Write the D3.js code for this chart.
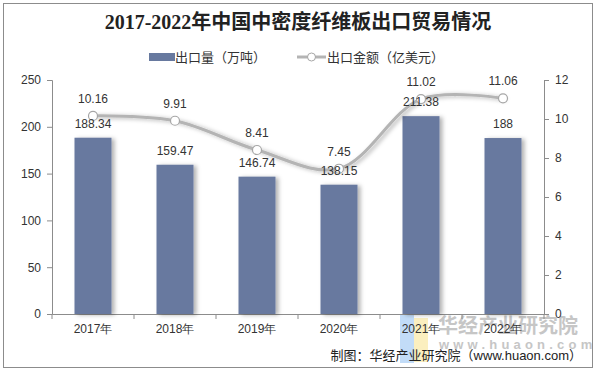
<!DOCTYPE html>
<html>
<head>
<meta charset="utf-8">
<script src="https://cdn.jsdelivr.net/npm/d3@7"></script>
<style>
  body { margin: 0; background: #fff; }
  svg { display: block; font-family: "Liberation Sans", Arial, "Noto Sans CJK SC", sans-serif; }
</style>
</head>
<body>
<svg id="chart"></svg>
<script>
const years = ['2017年', '2018年', '2019年', '2020年', '2021年', '2022年'];
const volume = [188.34, 159.47, 146.74, 138.15, 211.38, 188];
const amount = [10.16, 9.91, 8.41, 7.45, 11.02, 11.06];
const leftTicks = [0, 50, 100, 150, 200, 250];
const rightTicks = [0, 2, 4, 6, 8, 10, 12];

let width = 596;
let height = 372;
let plotLeft = 52, plotRight = 544, plotTop = 80, plotBottom = 314;

let svg = d3.select('#chart')
            .attr('width', width)
            .attr('height', height);

let defs = svg.append('defs');
let shadow = defs.append('filter').attr('id', 'shadow')
  .attr('x', '-20%').attr('y', '-20%').attr('width', '160%').attr('height', '140%');
shadow.append('feDropShadow')
  .attr('dx', 3).attr('dy', 1).attr('stdDeviation', 2)
  .attr('flood-color', '#000').attr('flood-opacity', 0.3);

// outer frame
svg.append('rect')
   .attr('x', 3.5).attr('y', 3.5)
   .attr('width', width - 7).attr('height', height - 8)
   .attr('fill', '#fff').attr('stroke', '#8c8c8c');

svg.append('text')
   .attr('x', width / 2).attr('y', 29)
   .attr('text-anchor', 'middle')
   .style('font-family', '"Liberation Serif", "Noto Sans CJK SC", serif')
   .style('font-weight', 'bold')
   .style('font-size', '20px')
   .attr('fill', '#222')
   .text('2017-2022年中国中密度纤维板出口贸易情况');

let x = d3.scaleBand().domain(years).range([plotLeft, plotRight]);
let yL = d3.scaleLinear().domain([0, 250]).range([plotBottom, plotTop]);
let yR = d3.scaleLinear().domain([0, 12]).range([plotBottom, plotTop]);

// watermark (drawn under the axis labels)
let wm = svg.append('g');
wm.append('rect').attr('x', 400).attr('y', 315).attr('width', 14).attr('height', 48).attr('fill', '#c2dcf8');
wm.append('rect').attr('x', 414).attr('y', 318).attr('width', 14).attr('height', 44).attr('fill', '#fbefbf');
wm.append('text').attr('x', 438).attr('y', 333)
  .style('font-size', '20px').style('font-weight', 'bold').attr('fill', '#c6c6c6')
  .text('华经产业研究院');
wm.append('text').attr('x', 439).attr('y', 349)
  .style('font-size', '13px').style('font-weight', 'bold').style('letter-spacing', '4.2px').attr('fill', '#c6c6c6')
  .text('www.huaon.com');

// axes
let xAxis = d3.axisBottom(x).tickSize(0).tickPadding(10);
let gx = svg.append('g').attr('transform', `translate(0,${plotBottom})`).call(xAxis);
gx.selectAll('text').style('font-size', '12px').attr('fill', '#333');
gx.select('.domain').attr('stroke', '#8c8c8c');
gx.selectAll('.sep')
  .data(d3.range(years.length + 1))
  .enter().append('line')
  .attr('x1', i => plotLeft + i * x.step()).attr('x2', i => plotLeft + i * x.step())
  .attr('y1', 0).attr('y2', 5)
  .attr('stroke', '#8c8c8c');

let gl = svg.append('g').attr('transform', `translate(${plotLeft},0)`)
  .call(d3.axisLeft(yL).tickValues(leftTicks).tickSize(5).tickPadding(6));
gl.selectAll('text').style('font-size', '12px').attr('fill', '#333');
gl.selectAll('line, .domain').attr('stroke', '#8c8c8c');

let gr = svg.append('g').attr('transform', `translate(${plotRight},0)`)
  .call(d3.axisRight(yR).tickValues(rightTicks).tickSize(5).tickPadding(6));
gr.selectAll('text').style('font-size', '12px').attr('fill', '#333');
gr.selectAll('line, .domain').attr('stroke', '#8c8c8c');

// bars
let barW = 37;
let cx = (d, i) => x(years[i]) + x.bandwidth() / 2;
svg.selectAll('rect.bar')
   .data(volume)
   .enter().append('rect')
   .attr('class', 'bar')
   .attr('x', (d, i) => cx(d, i) - barW / 2)
   .attr('y', d => yL(d))
   .attr('width', barW)
   .attr('height', d => plotBottom - yL(d))
   .attr('fill', '#67799f')
   .attr('filter', 'url(#shadow)');

// line
let line = d3.line().x(cx).y(d => yR(d)).curve(d3.curveCatmullRom);
svg.append('path')
   .datum(amount)
   .attr('d', line)
   .attr('fill', 'none')
   .attr('stroke', '#b4b4b4')
   .attr('stroke-width', 3)
   .attr('filter', 'url(#shadow)');

svg.selectAll('circle.pt')
   .data(amount)
   .enter().append('circle')
   .attr('class', 'pt')
   .attr('cx', cx).attr('cy', d => yR(d))
   .attr('r', 4.5)
   .attr('fill', '#fff')
   .attr('stroke', '#a6a6a6')
   .attr('stroke-width', 1.2);

// labels
svg.selectAll('text.vl')
   .data(volume)
   .enter().append('text')
   .attr('class', 'vl')
   .attr('x', cx).attr('y', d => yL(d) - 10)
   .attr('text-anchor', 'middle')
   .style('font-size', '12px').attr('fill', '#333')
   .text(d => d);

svg.selectAll('text.al')
   .data(amount)
   .enter().append('text')
   .attr('class', 'al')
   .attr('x', cx).attr('y', d => yR(d) - 13)
   .attr('text-anchor', 'middle')
   .style('font-size', '12px').attr('fill', '#333')
   .text(d => d.toFixed(2));

// legend
let lg = svg.append('g').attr('transform', 'translate(0,57)');
lg.append('rect').attr('x', 149).attr('y', -4).attr('width', 26).attr('height', 8).attr('fill', '#67799f');
lg.append('text').attr('x', 175).attr('y', 5).style('font-size', '13px').attr('fill', '#333').text('出口量（万吨）');
lg.append('line').attr('x1', 297).attr('x2', 326).attr('y1', 0).attr('y2', 0)
  .attr('stroke', '#b4b4b4').attr('stroke-width', 3);
lg.append('circle').attr('cx', 311.5).attr('cy', 0).attr('r', 4)
  .attr('fill', '#fff').attr('stroke', '#a6a6a6');
lg.append('text').attr('x', 327).attr('y', 5).style('font-size', '13px').attr('fill', '#333').text('出口金额（亿美元）');

svg.append('text')
   .attr('x', 582).attr('y', 360)
   .attr('text-anchor', 'end')
   .style('font-size', '13px').attr('fill', '#222')
   .text('制图：华经产业研究院（www.huaon.com）');
</script>
</body>
</html>
